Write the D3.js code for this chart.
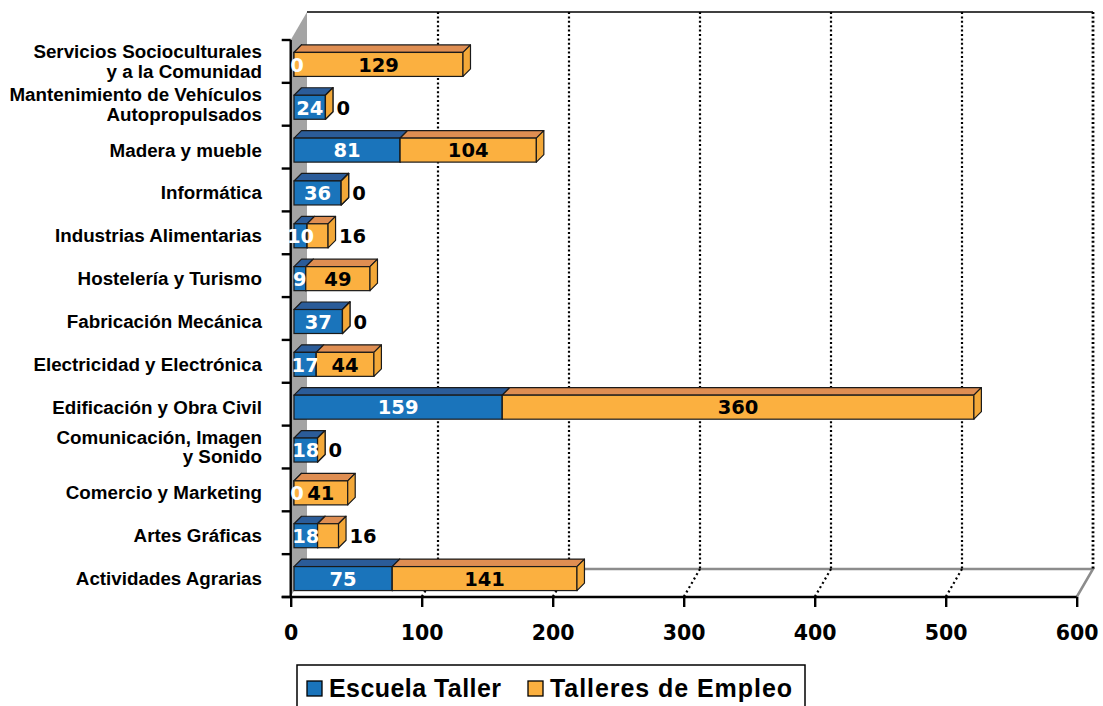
<!DOCTYPE html>
<html>
<head>
<meta charset="utf-8">
<script src="https://cdnjs.cloudflare.com/ajax/libs/d3/7.8.5/d3.min.js"></script>
<style>
  body { margin: 0; background: #fff; }
  svg { display: block; }
  .cat { font-family: "Liberation Sans", Arial, sans-serif; font-weight: bold; font-size: 18.8px; fill: #000; }
  .val { font-family: "DejaVu Sans", Verdana, sans-serif; font-weight: bold; font-size: 19.5px; }
  .tick text { font-family: "DejaVu Sans", Verdana, sans-serif; font-weight: bold; font-size: 20.5px; fill: #000; }
  .leg { font-family: "Liberation Sans", Arial, sans-serif; font-weight: bold; font-size: 25px; fill: #000; }
</style>
</head>
<body>
<div id="chart"></div>
<script>
// data, top to bottom
var categories = [
  "Servicios Socioculturales\ny a la Comunidad",
  "Mantenimiento de Vehículos\nAutopropulsados",
  "Madera y mueble",
  "Informática",
  "Industrias Alimentarias",
  "Hostelería y Turismo",
  "Fabricación Mecánica",
  "Electricidad y Electrónica",
  "Edificación y Obra Civil",
  "Comunicación, Imagen\ny Sonido",
  "Comercio y Marketing",
  "Artes Gráficas",
  "Actividades Agrarias"
];
var escuelaTaller  = [0, 24, 81, 36, 10, 9, 37, 17, 159, 18, 0, 18, 75];
var talleresEmpleo = [129, 0, 104, 0, 16, 49, 0, 44, 360, 0, 41, 16, 141];
var seriesNames = ["Escuela Taller", "Talleres de Empleo"];
var xTicks = [0, 100, 200, 300, 400, 500, 600];

var width = 1103, height = 706;

var colors = {
  blue:   { front: "#1a74bb", top: "#2b5c99", side: "#1a5f9c", text: "#fff" },
  orange: { front: "#fbb040", top: "#df8e52", side: "#f3a838", text: "#000" }
};

// wall depth and bar depth (oblique projection)
var wallDx = 16.3, wallDy = -28;
var barDx = 7.5, barDy = -7.5;
var barShiftX = 3.3, barShiftY = 3, faceH = 24;

var svg = d3.select("#chart")
  .append("svg")
  .attr("width", width)
  .attr("height", height)

var x = d3.scaleLinear().domain([0, 600]).range([290.7, 1076.7]);
var y = d3.scaleBand().domain(categories).range([40, 597]).padding(0);

var x0 = x(0), x1 = x(600), yTop = y.range()[0], yBot = y.range()[1];

// back wall
svg.append("rect")
  .attr("x", x0 + wallDx).attr("y", yTop + wallDy)
  .attr("width", x1 - x0).attr("height", yBot - yTop)
  .attr("fill", "#fff")
svg.append("line")
  .attr("x1", x0 + wallDx).attr("x2", x1 + wallDx)
  .attr("y1", yTop + wallDy).attr("y2", yTop + wallDy)
  .attr("stroke", "#000").attr("stroke-width", 1.3)

// left wall
svg.append("polygon")
  .attr("points", [[x0, yTop], [x0 + wallDx, yTop + wallDy], [x0 + wallDx, yBot + wallDy], [x0, yBot]].join(" "))
  .attr("fill", "#a4a4a4")

// floor
svg.append("polygon")
  .attr("points", [[x0, yBot], [x0 + wallDx, yBot + wallDy], [x1 + wallDx, yBot + wallDy], [x1, yBot]].join(" "))
  .attr("fill", "#fff")
svg.append("polyline")
  .attr("points", [[x0 + wallDx, yBot + wallDy], [x1 + wallDx, yBot + wallDy], [x1, yBot]].join(" "))
  .attr("fill", "none")
  .attr("stroke", "#8c8c8c")
  .attr("stroke-width", 2.5)

// dotted gridlines on back wall and floor
var grid = xTicks.filter(function(d) { return d > 0; });
svg.selectAll(".gridback")
  .data(grid)
  .enter().append("line")
  .attr("class", "gridback")
  .attr("x1", function(d) { return x(d) + wallDx; })
  .attr("x2", function(d) { return x(d) + wallDx; })
  .attr("y1", yTop + wallDy)
  .attr("y2", yBot + wallDy)
  .attr("stroke", "#000")
  .attr("stroke-width", function(d) { return d === 600 ? 2.8 : 2.2; })
  .attr("stroke-dasharray", "2,2.4")
svg.selectAll(".gridfloor")
  .data(grid.filter(function(d) { return d < 600; }))
  .enter().append("line")
  .attr("class", "gridfloor")
  .attr("x1", function(d) { return x(d) + wallDx; })
  .attr("x2", function(d) { return x(d); })
  .attr("y1", yBot + wallDy)
  .attr("y2", yBot)
  .attr("stroke", "#000")
  .attr("stroke-width", 2.2)
  .attr("stroke-dasharray", "2,3")

// y axis: line + ticks at band edges
svg.append("line")
  .attr("x1", x0).attr("x2", x0)
  .attr("y1", yTop).attr("y2", yBot)
  .attr("stroke", "#000").attr("stroke-width", 2.4)
var edges = categories.map(function(c) { return y(c); }).concat([yBot]);
svg.selectAll(".ytick")
  .data(edges)
  .enter().append("line")
  .attr("class", "ytick")
  .attr("x1", x0 - 9).attr("x2", x0)
  .attr("y1", function(d) { return d; })
  .attr("y2", function(d) { return d; })
  .attr("stroke", "#000").attr("stroke-width", 2.4)

// x axis
var xAxis = svg.append("g")
  .attr("transform", "translate(0," + yBot + ")")
  .call(d3.axisBottom(x).tickValues(xTicks).tickSize(10).tickSizeOuter(0).tickPadding(18))
xAxis.select(".domain").remove()
xAxis.selectAll(".tick line").attr("stroke", "#000").attr("stroke-width", 2.4)
svg.append("line")
  .attr("x1", x0 - 9).attr("x2", x1)
  .attr("y1", yBot).attr("y2", yBot)
  .attr("stroke", "#000").attr("stroke-width", 2.4)

// category labels
var catText = svg.selectAll(".cat")
  .data(categories)
  .enter().append("text")
  .attr("class", "cat")
  .attr("text-anchor", "end")
catText.each(function(c) {
  var lines = c.split("\n");
  var cy = y(c) + y.bandwidth() / 2;
  var sel = d3.select(this);
  if (lines.length === 1) {
    sel.append("tspan").attr("x", 262).attr("y", cy + 9.5).text(lines[0]);
  } else {
    lines.forEach(function(l, i) {
      sel.append("tspan").attr("x", 262).attr("y", cy - 3.3 + i * 19.6).text(l);
    });
  }
})

// 3d stacked bars
var rows = categories.map(function(c, i) {
  return [
    { cat: c, key: "blue", start: 0, value: escuelaTaller[i] },
    { cat: c, key: "orange", start: escuelaTaller[i], value: talleresEmpleo[i] }
  ];
});

function box(g, d) {
  var xa = x(d.start) + barShiftX,
      xb = x(d.start + d.value) + barShiftX,
      yf = y(d.cat) + y.bandwidth() / 2 + barShiftY - faceH / 2,
      col = colors[d.key];
  g.append("polygon")
    .attr("points", [[xa, yf], [xa + barDx, yf + barDy], [xb + barDx, yf + barDy], [xb, yf]].join(" "))
    .attr("fill", col.top).attr("stroke", "#1a1a1a").attr("stroke-width", 1.2).attr("stroke-linejoin", "round")
  g.append("rect")
    .attr("x", xa).attr("y", yf)
    .attr("width", xb - xa).attr("height", faceH)
    .attr("fill", col.front).attr("stroke", "#1a1a1a").attr("stroke-width", 1.2)
  g.append("polygon")
    .attr("points", [[xb, yf], [xb + barDx, yf + barDy], [xb + barDx, yf + barDy + faceH], [xb, yf + faceH]].join(" "))
    .attr("fill", col.side).attr("stroke", "#1a1a1a").attr("stroke-width", 1.2).attr("stroke-linejoin", "round")
}

var barG = svg.append("g");
rows.forEach(function(r) {
  r.forEach(function(d) { box(barG, d); });
});

// value labels
var labels = [];
rows.forEach(function(r) {
  r.forEach(function(d) {
    var xa = x(d.start) + barShiftX, xb = x(d.start + d.value) + barShiftX;
    var cy = y(d.cat) + y.bandwidth() / 2 + barShiftY;
    var l = { text: d.value, y: cy + 7.3, fill: colors[d.key].text, anchor: "middle", x: (xa + xb) / 2 };
    if (d.key === "blue" && d.value === 0) { l.x = xa + 3; }
    if (d.key === "orange" && (xb - xa) < 26) { l.x = xb + 11; l.anchor = "start"; l.fill = "#000"; }
    labels.push(l);
  });
});
svg.selectAll(".val")
  .data(labels)
  .enter().append("text")
  .attr("class", "val")
  .attr("x", function(d) { return d.x; })
  .attr("y", function(d) { return d.y; })
  .attr("text-anchor", function(d) { return d.anchor; })
  .attr("fill", function(d) { return d.fill; })
  .text(function(d) { return d.text; })

// legend
var legend = svg.append("g")
legend.append("rect")
  .attr("x", 297).attr("y", 665)
  .attr("width", 508).attr("height", 50)
  .attr("fill", "#fff").attr("stroke", "#000").attr("stroke-width", 1.5)
var legX = [307, 528], legW = [172, 242];
seriesNames.forEach(function(name, i) {
  var col = i === 0 ? colors.blue : colors.orange;
  legend.append("rect")
    .attr("x", legX[i]).attr("y", 681)
    .attr("width", 15).attr("height", 15)
    .attr("fill", col.front).attr("stroke", "#000").attr("stroke-width", 1.3)
  legend.append("text")
    .attr("class", "leg")
    .attr("x", legX[i] + 22).attr("y", 697)
    .attr("textLength", legW[i])
    .attr("lengthAdjust", "spacing")
    .text(name)
});
</script>
</body>
</html>
